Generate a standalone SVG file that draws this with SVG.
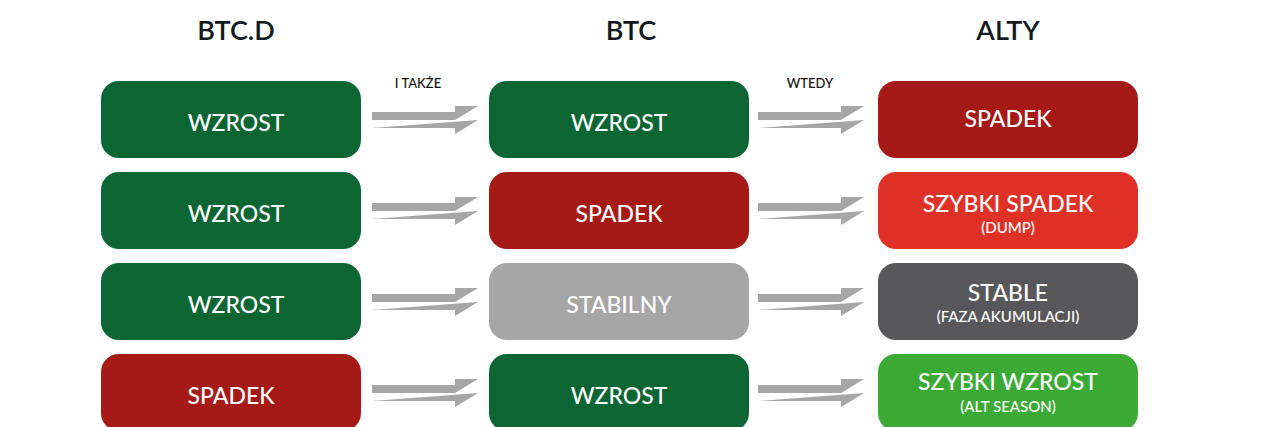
<svg xmlns="http://www.w3.org/2000/svg" width="1280" height="427" viewBox="0 0 1280 427">
<defs>
<style>
.h{font-family:Lato,"Liberation Sans",sans-serif;font-size:27px;font-weight:600;fill:#111820;text-anchor:middle}
.t{font-family:Lato,"Liberation Sans",sans-serif;font-size:23px;font-weight:500;fill:#fff;text-anchor:middle}
.s{font-family:Lato,"Liberation Sans",sans-serif;font-size:15px;font-weight:500;fill:#fff;text-anchor:middle}
.l{font-family:Lato,"Liberation Sans",sans-serif;font-size:13px;font-weight:500;fill:#111;text-anchor:middle}
.a{fill:#a6a6a6}
.dg{fill:#0b6634}.rd{fill:#a51916}.br{fill:#e03127}.gy{fill:#a6a6a6}.dk{fill:#58585a}.lg{fill:#3aaa35}
</style>
<path id="arr" d="M0,-8 H83 V-14 H106 L83,0 H0 Z M0,8 H83 V14 L106,0 Z"/>
</defs>
<text class="h" x="236" y="40">BTC.D</text>
<text class="h" x="631" y="40">BTC</text>
<text class="h" x="1008" y="40">ALTY</text>
<text class="l" x="418" y="88">I TAKŻE</text>
<text class="l" x="810" y="88">WTEDY</text>
<g id="connectors" class="a">
<use href="#arr" x="372" y="120"/><use href="#arr" x="758" y="120"/>
<use href="#arr" x="372" y="211"/><use href="#arr" x="758" y="211"/>
<use href="#arr" x="372" y="302"/><use href="#arr" x="758" y="302"/>
<use href="#arr" x="372" y="393"/><use href="#arr" x="758" y="393"/>
</g>
<g id="btcd1"><rect class="dg" x="101" y="81" width="260" height="77" rx="18"/><text class="t" x="236" y="131">WZROST</text></g>
<g id="btcd2"><rect class="dg" x="101" y="172" width="260" height="77" rx="18"/><text class="t" x="236" y="222">WZROST</text></g>
<g id="btcd3"><rect class="dg" x="101" y="263" width="260" height="77" rx="18"/><text class="t" x="236" y="313">WZROST</text></g>
<g id="btcd4"><rect class="rd" x="101" y="354" width="260" height="77" rx="18"/><text class="t" x="231" y="404">SPADEK</text></g>
<g id="btc1"><rect class="dg" x="489" y="81" width="260" height="77" rx="18"/><text class="t" x="619" y="131">WZROST</text></g>
<g id="btc2"><rect class="rd" x="489" y="172" width="260" height="77" rx="18"/><text class="t" x="619" y="222">SPADEK</text></g>
<g id="btc3"><rect class="gy" x="489" y="263" width="260" height="77" rx="18"/><text class="t" x="619" y="313">STABILNY</text></g>
<g id="btc4"><rect class="dg" x="489" y="354" width="260" height="77" rx="18"/><text class="t" x="619" y="404">WZROST</text></g>
<g id="alt1"><rect class="rd" x="878" y="81" width="260" height="77" rx="18"/><text class="t" x="1008" y="127">SPADEK</text></g>
<g id="alt2"><rect class="br" x="878" y="172" width="260" height="77" rx="18"/><text class="t" x="1008" y="212">SZYBKI SPADEK</text><text class="s" x="1008" y="233">(DUMP)</text></g>
<g id="alt3"><rect class="dk" x="878" y="263" width="260" height="77" rx="18"/><text class="t" x="1008" y="301">STABLE</text><text class="s" x="1008" y="322">(FAZA AKUMULACJI)</text></g>
<g id="alt4"><rect class="lg" x="878" y="354" width="260" height="77" rx="18"/><text class="t" x="1008" y="390">SZYBKI WZROST</text><text class="s" x="1008" y="412">(ALT SEASON)</text></g>
</svg>
